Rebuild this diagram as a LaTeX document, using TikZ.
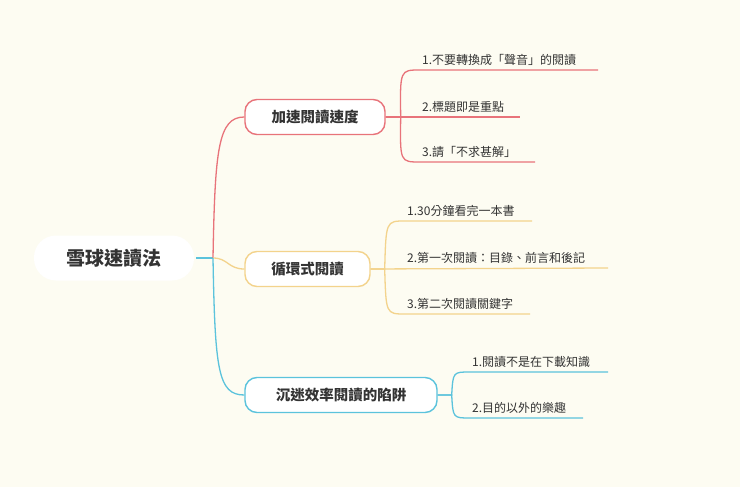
\documentclass[tikz,border=0pt]{standalone}
\usepackage{fontspec}
\setmainfont{Noto Sans CJK TC}
\definecolor{bg}{HTML}{FDFCF2}
\definecolor{cr}{HTML}{E8737A}
\definecolor{cy}{HTML}{F3D38C}
\definecolor{cb}{HTML}{5BC3DC}
\definecolor{tx}{HTML}{333333}
\tikzset{
 br/.style={draw=#1,line width=1.4pt,rounded corners=12pt,fill=white,text=tx,font=\fontsize{14.5}{16}\selectfont\bfseries,minimum height=35pt},
 lf/.style={anchor=south west,text=tx,font=\fontsize{12}{14}\selectfont,inner sep=2pt,inner ysep=4pt},
 ln/.style={#1,line width=1.3pt},
}
\begin{document}
\begin{tikzpicture}[x=1pt,y=-1pt]
\fill[bg] (0,0) rectangle (740,487);
\useasboundingbox (0,0) rectangle (740,487);
\node[fill=white,rounded corners=22pt,minimum width=160pt,minimum height=45pt,text=tx,font=\fontsize{19}{21}\selectfont\bfseries] (root) at (114,258) {雪球速讀法};
\node[br=cr,minimum width=140pt] (b1) at (315,117) {加速閱讀速度};
\node[br=cy,minimum width=125pt] (b2) at (307.5,269) {循環式閱讀};
\node[br=cb,minimum width=192pt] (b3) at (341,395) {沉迷效率閱讀的陷阱};
\coordinate (r0) at (196,258);
\coordinate (r1) at (213,258);
\draw[ln=cb] (r0) -- (r1);
\draw[ln=cr] (r1) .. controls (215,150) and (218,117) .. (b1.west);
\draw[ln=cy] (r1) .. controls (228,258) and (228,269) .. (b2.west);
\draw[ln=cb] (r1) .. controls (215,370) and (218,395) .. (b3.west);
% leaves branch 1
\node[lf] (a1) at (420,70) {1.不要轉換成「聲音」的閱讀};
\node[lf] (a2) at (420,117) {2.標題即是重點};
\node[lf] (a3) at (420,162) {3.請「不求甚解」};
\coordinate (e1) at (598,70); \coordinate (e2) at (520,117); \coordinate (e3) at (535,162);
\draw[ln=cr] (b1.east) -- ++(15,0) .. controls (400,70) .. (a1.south west) -- (e1);
\draw[ln=cr] (b1.east) -- (e2);
\draw[ln=cr] (b1.east) -- ++(15,0) .. controls (400,162) .. (a3.south west) -- (e3);
% leaves branch 2
\node[lf] (c1) at (405,221) {1.30分鐘看完一本書};
\node[lf] (c2) at (405,268) {2.第一次閱讀：目錄、前言和後記};
\node[lf] (c3) at (405,314) {3.第二次閱讀關鍵字};
\coordinate (f1) at (532,221); \coordinate (f2) at (608,268); \coordinate (f3) at (530,314);
\draw[ln=cy] (b2.east) -- ++(14,0) .. controls (386,221) .. (c1.south west) -- (f1);
\draw[ln=cy] (b2.east) -- (f2);
\draw[ln=cy] (b2.east) -- ++(14,0) .. controls (386,314) .. (c3.south west) -- (f3);
% leaves branch 3
\node[lf] (d1) at (470,372) {1.閱讀不是在下載知識};
\node[lf] (d2) at (470,418) {2.目的以外的樂趣};
\coordinate (g1) at (608,372); \coordinate (g2) at (583,418);
\draw[ln=cb] (b3.east) -- ++(14,0) .. controls (453,372) .. (d1.south west) -- (g1);
\draw[ln=cb] (b3.east) -- ++(14,0) .. controls (453,418) .. (d2.south west) -- (g2);
\end{tikzpicture}
\end{document}
